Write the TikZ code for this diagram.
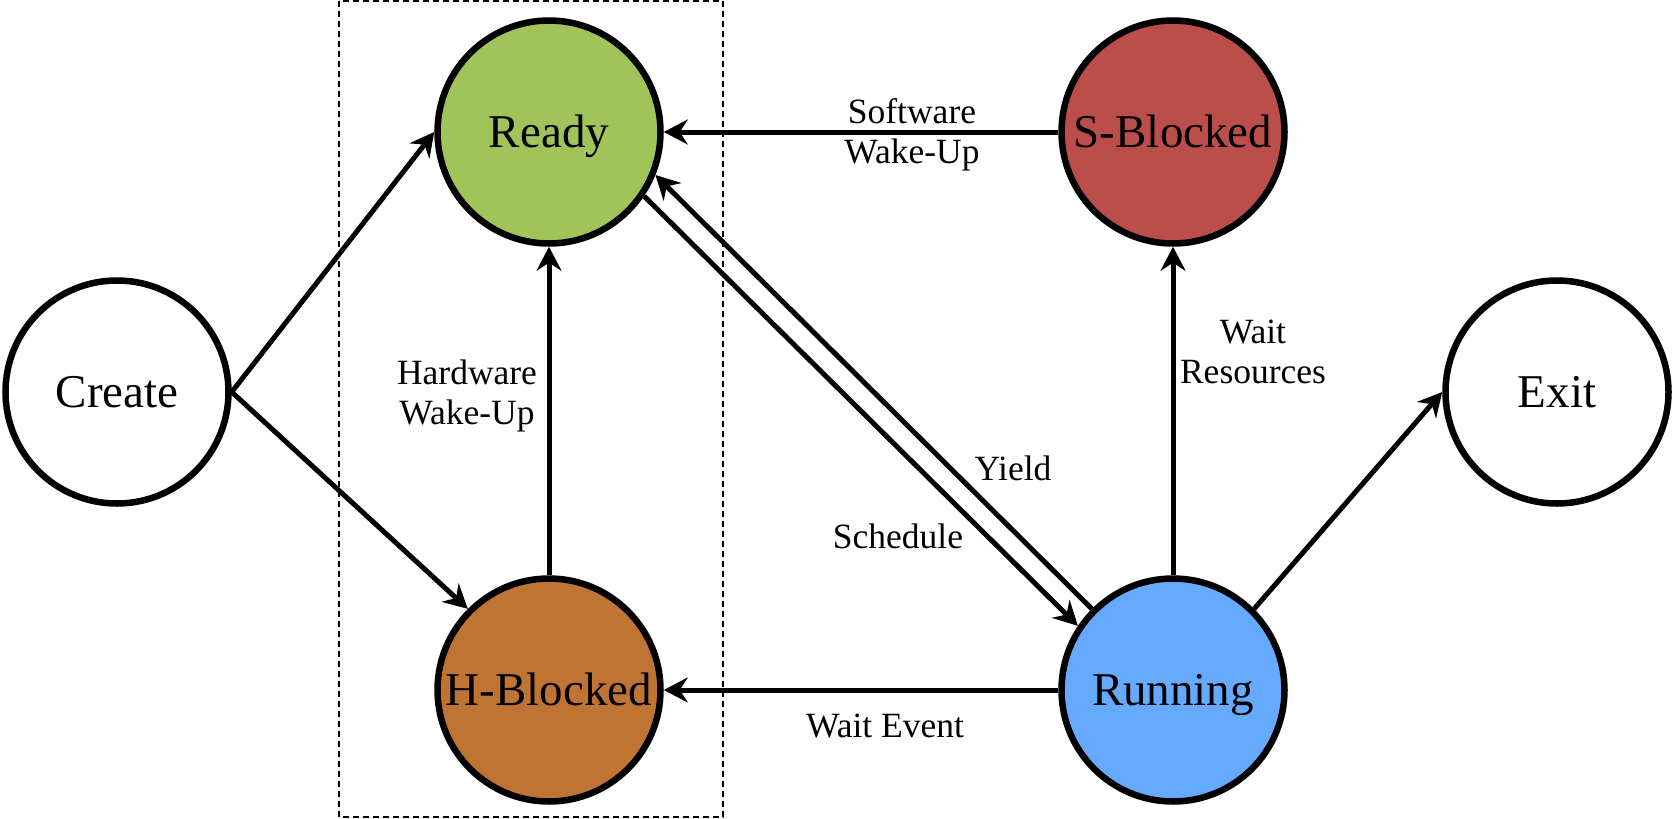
\documentclass[tikz,border=0pt]{standalone}
\usepackage{fontspec}
\setmainfont{Liberation Serif}
\usepackage{tikz}
\usetikzlibrary{arrows.meta,shapes}

\definecolor{readygreen}{RGB}{160,196,90}
\definecolor{sblockred}{RGB}{187,77,74}
\definecolor{hblockbrown}{RGB}{191,116,51}
\definecolor{runblue}{RGB}{102,170,255}

\begin{document}
\begin{tikzpicture}[
  state/.style={draw,circle,line width=6.5bp,minimum size=223bp,inner sep=0pt,
    text height=31bp,text depth=0pt,font=\fontsize{47bp}{56bp}\selectfont},
  edge/.style={-{Stealth[length=24bp,width=25bp,inset=8bp]},line width=5bp},
  lbl/.style={align=center,font=\fontsize{35.5bp}{40bp}\selectfont}]

\useasboundingbox (0bp,0bp) rectangle (1674bp,-819bp);
\draw [dash pattern=on 6bp off 4bp,line width=1.5bp] (339bp,-1bp) rectangle (723bp,-817bp);

\node (Create) at (117bp,-392bp)[state,fill=white] {Create};
\node (Ready) at (549bp,-132bp)[state,fill=readygreen] {Ready};
\node (HBlocked) at (549bp,-690bp)[state,fill=hblockbrown] {H-Blocked};
\node (SBlocked) at (1173bp,-132bp)[state,fill=sblockred] {S-Blocked};
\node (Running) at (1173bp,-690bp)[state,fill=runblue] {Running};
\node (Exit) at (1557bp,-392bp)[state,fill=white] {Exit};

\draw [edge] (Create.east) -- (Ready.west);
\draw [edge] (Create.east) -- (HBlocked.135);
\draw [edge] (HBlocked) -- (Ready);
\draw [edge] (SBlocked) -- (Ready);
\draw [edge] (Ready.-34) -- (Running.146);
\draw [edge] (Running.135) -- (Ready.-22);
\draw [edge] (Running) -- (HBlocked);
\draw [edge] (Running) -- (SBlocked);
\draw [edge] (Running.45) -- (Exit.west);

\node (SoftWake) at (912bp,-135bp)[lbl] {Software\\Wake-Up};
\node (HardWake) at (467bp,-396bp)[lbl] {Hardware\\Wake-Up};
\node (WaitRes) at (1253bp,-352bp)[lbl] {Wait\\Resources};
\node (Yield) at (1013bp,-480bp)[lbl,anchor=base] {Yield};
\node (Schedule) at (898bp,-548bp)[lbl,anchor=base] {Schedule};
\node (WaitEvent) at (885bp,-737bp)[lbl,anchor=base] {Wait Event};
\end{tikzpicture}
\end{document}
